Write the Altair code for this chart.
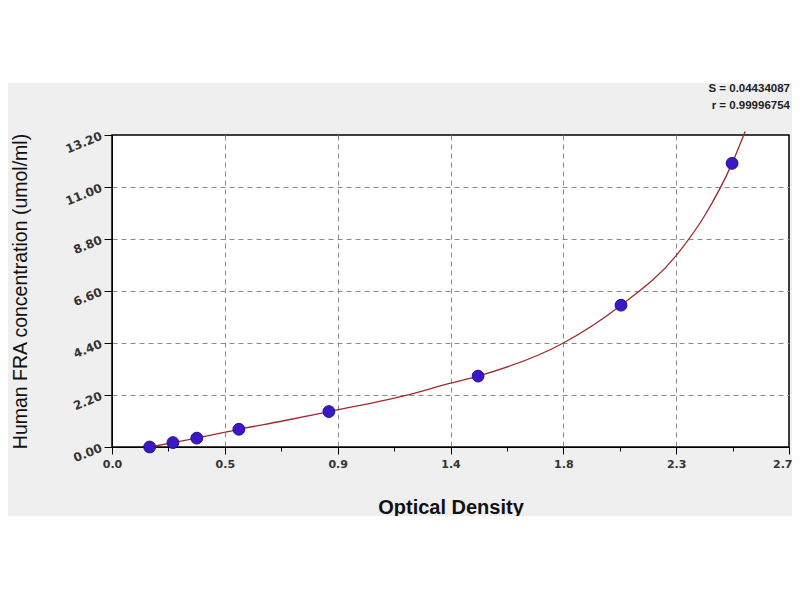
import altair as alt
import pandas as pd

# standard points (OD vs concentration)
od = [0.15, 0.243, 0.338, 0.506, 0.865, 1.46, 2.03, 2.473]
conc = [0.0, 0.1875, 0.375, 0.75, 1.5, 3.0, 6.0, 12.0]

# fitted curve
curve_od = [0.15, 0.243, 0.338, 0.506, 0.68, 0.865, 1.16, 1.35, 1.46, 1.8, 2.03, 2.25, 2.37, 2.473, 2.525]
curve_conc = [0.0, 0.1875, 0.375, 0.75, 1.1, 1.5, 2.15, 2.7, 3.0, 4.4, 6.0, 8.1, 9.9, 12.0, 13.35]

x_ticks = [0, 0.1125, 0.225, 0.3375, 0.45, 0.5625, 0.675, 0.7875, 0.9, 1.0125, 1.125, 1.2375,
           1.35, 1.4625, 1.575, 1.6875, 1.8, 1.9125, 2.025, 2.1375, 2.25, 2.3625, 2.475, 2.5875, 2.7]
y_ticks = [0, 0.55, 1.1, 1.65, 2.2, 2.75, 3.3, 3.85, 4.4, 4.95, 5.5, 6.05, 6.6, 7.15, 7.7, 8.25,
           8.8, 9.35, 9.9, 10.45, 11.0, 11.55, 12.1, 12.65, 13.2]

stats = ["S = 0.04434087\nr = 0.99996754"]

FONT = "Liberation Sans"
TICK_FONT = "DejaVu Sans"
W, H = 677, 312

pts = pd.DataFrame({"od": od, "conc": conc})
curve = pd.DataFrame({"od": curve_od, "conc": curve_conc})

x_major = "abs(datum.value / 0.45 - round(datum.value / 0.45)) < 0.001"
y_major = "abs(datum.value / 2.2 - round(datum.value / 2.2)) < 0.001"
# no grid on the frame edges
x_grid = f"({x_major}) && datum.value > 0.01 && datum.value < 2.69"
y_grid = f"({y_major}) && datum.value > 0.01 && datum.value < 13.19"
x_last = "datum.value > 2.69"

x_enc = alt.X(
    "od:Q",
    scale=alt.Scale(domain=[0, 2.7], nice=False, zero=False),
    axis=alt.Axis(
        values=x_ticks,
        labelExpr=f"({x_major}) ? format(datum.value, '.1f') : ''",
        tickSize={"condition": {"test": x_major, "value": 7}, "value": 4},
        gridOpacity={"condition": {"test": x_grid, "value": 1}, "value": 0},
        gridDash=[5, 4], gridColor="#8a8a8a",
        domainColor="black", tickColor="black",
        labelFont=TICK_FONT, labelFontSize=11, labelFontWeight="bold", labelColor="#333",
        labelAlign={"condition": {"test": x_last, "value": "right"}, "value": "center"},
        labelOffset={"condition": {"test": x_last, "value": 3}, "value": 0},
        labelPadding=4, labelOverlap=False, labelFlush=False,
        title="Optical Density", titleFont=FONT, titleFontSize=20, titleFontWeight="bold",
        titleColor="#111", titleX=W / 2, titleY=66, titleBaseline="alphabetic",
    ),
)
y_enc = alt.Y(
    "conc:Q",
    scale=alt.Scale(domain=[0, 13.2], nice=False),
    axis=alt.Axis(
        values=y_ticks,
        labelExpr=f"({y_major}) ? format(datum.value, '.2f') : ''",
        tickSize={"condition": {"test": y_major, "value": 8}, "value": 4},
        gridOpacity={"condition": {"test": y_grid, "value": 1}, "value": 0},
        gridDash=[5, 4], gridColor="#8a8a8a",
        domainColor="black", tickColor="black",
        labelFont=TICK_FONT, labelFontSize=12, labelFontWeight="bold", labelColor="#333",
        labelAngle=338, labelAlign="right", labelBaseline="middle", labelPadding=3,
        labelOverlap=False, labelFlush=False,
        title="Human FRA  concentration (umol/ml)", titleFont=FONT, titleFontSize=19.5,
        titleFontWeight="normal", titleColor="#111", titleX=-86, titleY=H / 2,
        titleAlign="center", titleBaseline="alphabetic", titleAngle=270,
    ),
)

# white strip above the grey panel
top_strip = alt.Chart(pd.DataFrame({"k": [0]})).mark_rect(color="white", clip=False).encode(
    x=alt.value(-110), x2=alt.value(W + 20), y=alt.value(-130), y2=alt.value(-52)
)

line = alt.Chart(curve).mark_line(
    color="#9e2a2f", strokeWidth=1.3, interpolate="monotone", clip=False
).encode(x=x_enc, y=y_enc)

dots = alt.Chart(pts).mark_circle(
    size=140, color="#3a18c8", opacity=1, stroke="#24108c", strokeWidth=1
).encode(x="od:Q", y="conc:Q")

label = alt.Chart(pd.DataFrame({"t": stats})).mark_text(
    align="right", baseline="top", font=FONT, fontSize=11.5, fontWeight="bold",
    color="#222", lineBreak="\n", lineHeight=17
).encode(text="t:N", x=alt.value(W + 1), y=alt.value(-52))

chart = (
    alt.layer(top_strip, line, dots, label)
    .properties(
        width=W, height=H,
        autosize=alt.AutoSizeParams(type="none"),
        padding={"left": 104, "top": 127, "right": 3, "bottom": 69},
        background="#efefef",
    )
    .configure_view(fill="white", stroke="black", strokeWidth=1.5)
)

chart.save("out.html", embed_options={"renderer": "svg", "actions": False})
